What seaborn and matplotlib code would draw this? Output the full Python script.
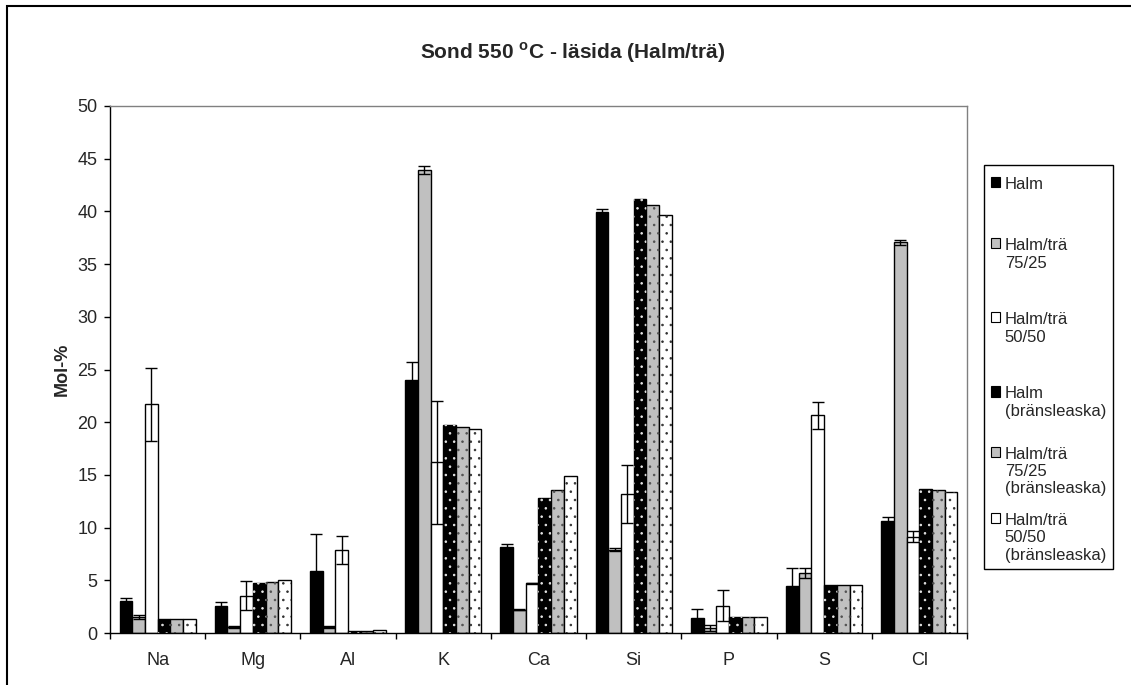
import matplotlib
matplotlib.use("Agg")
import matplotlib.pyplot as plt
from matplotlib.patches import Rectangle, Patch
from matplotlib.offsetbox import VPacker, DrawingArea
import numpy as np
import pandas as pd
import seaborn as sns

# Elements along the x axis
elements = ["Na", "Mg", "Al", "K", "Ca", "Si", "P", "S", "Cl"]

# Series names (legend labels)
series = [
    "Halm",
    "Halm/trä\n75/25",
    "Halm/trä\n50/50",
    "Halm\n(bränsleaska)",
    "Halm/trä\n75/25\n(bränsleaska)",
    "Halm/trä\n50/50\n(bränsleaska)",
]

# Measured composition, mol-%
halm = [3.0, 2.6, 5.85, 24.0, 8.2, 39.9, 1.4, 4.45, 10.6]
halm_7525 = [1.5, 0.55, 0.55, 43.95, 2.2, 7.9, 0.45, 5.7, 37.05]
halm_5050 = [21.7, 3.55, 7.9, 16.2, 4.7, 13.15, 2.6, 20.65, 9.15]

# Standard deviations of the measured series
halm_err = [0.3, 0.35, 3.5, 1.7, 0.2, 0.35, 0.9, 1.7, 0.4]
halm_7525_err = [0.2, 0.08, 0.1, 0.4, 0.05, 0.15, 0.3, 0.45, 0.2]
halm_5050_err = [3.45, 1.4, 1.35, 5.85, 0.08, 2.75, 1.45, 1.3, 0.55]

# Composition of the fuel ash
ash_halm = [1.3, 4.75, 0.2, 19.7, 12.8, 41.2, 1.5, 4.6, 13.7]
ash_7525 = [1.3, 4.85, 0.2, 19.55, 13.55, 40.65, 1.5, 4.6, 13.6]
ash_5050 = [1.3, 5.0, 0.3, 19.35, 14.85, 39.65, 1.5, 4.55, 13.35]

values = [halm, halm_7525, halm_5050, ash_halm, ash_7525, ash_5050]
errors = [halm_err, halm_7525_err, halm_5050_err, None, None, None]

fills = ["#000000", "#C0C0C0", "#FFFFFF", "#000000", "#C0C0C0", "#FFFFFF"]
dot_colors = [None, None, None, "#E8E8E8", "#505050", "#303030"]

# Vertical space (points) above the first legend entry and after each entry
legend_top_space = 3.6
legend_gaps = [33.6, 30.0, 30.0, 19.9, 12.0]

sns.set_style("white")
plt.rcParams["font.family"] = ["Liberation Sans", "DejaVu Sans"]
plt.rcParams["mathtext.fontset"] = "custom"
plt.rcParams["mathtext.rm"] = "Liberation Sans"
plt.rcParams["mathtext.bf"] = "Liberation Sans:bold"
plt.rcParams["hatch.linewidth"] = 0.6

df = pd.DataFrame(
    [(el, s, v) for s, vals in zip(series, values) for el, v in zip(elements, vals)],
    columns=["Element", "Serie", "Mol"],
)

fig = plt.figure(figsize=(11.31, 6.85), dpi=100)
ax = fig.add_axes([110 / 1131, 1 - 633 / 685, 857 / 1131, (633 - 106) / 685])

sns.barplot(
    data=df, x="Element", y="Mol", hue="Serie", order=elements, hue_order=series,
    palette=fills, edgecolor="black", linewidth=1.0, width=0.8, gap=0,
    errorbar=None, legend=False, saturation=1, ax=ax,
)

bar_containers = list(ax.containers)

# Dotted fill for the fuel-ash series and error bars for the measured ones
for i, cont in enumerate(bar_containers):
    xs = np.array([b.get_x() + b.get_width() / 2 for b in cont])
    if dot_colors[i] is not None:
        for b in cont:
            ax.add_patch(Rectangle((b.get_x(), b.get_y()), b.get_width(), b.get_height(),
                                   fill=False, hatch="..", edgecolor=dot_colors[i],
                                   linewidth=0, zorder=b.get_zorder() + 0.1))
    if errors[i] is not None:
        ax.errorbar(xs, values[i], yerr=errors[i], fmt="none", ecolor="black",
                    elinewidth=1.0, capsize=4.5, capthick=1.0, zorder=5)

ax.set_ylim(0, 50)
ax.set_yticks(np.arange(0, 51, 5))
ax.set_xlim(-0.5, len(elements) - 0.5)
ax.set_xticks(range(len(elements)))
ax.set_xticklabels(elements)
ax.set_xticks(np.arange(-0.5, len(elements), 1.0), minor=True)
ax.tick_params(axis="x", which="major", length=0, pad=14, labelsize=13)
ax.tick_params(axis="x", which="minor", length=4, width=1, color="black", direction="out",
               bottom=True)
ax.tick_params(axis="y", which="major", length=4, width=1, color="black", direction="out",
               pad=5, labelsize=13, left=True)
ax.set_xlabel("")
ax.set_ylabel("Mol-%", fontsize=13, fontweight="bold")
ax.yaxis.set_label_coords(-0.046, 0.5)

for side in ["left", "bottom"]:
    ax.spines[side].set_color("black")
    ax.spines[side].set_linewidth(1.0)
for side in ["top", "right"]:
    ax.spines[side].set_color("#808080")
    ax.spines[side].set_linewidth(1.0)

fig.text(573 / 1131, 1 - 53 / 685, r"Sond 550 $^{\mathbf{o}}$C - läsida (Halm/trä)",
         ha="center", va="center", fontsize=15, fontweight="bold")

handles = [Patch(facecolor=c, edgecolor="black", linewidth=0.8) for c in fills]
leg = fig.legend(handles, series, loc="upper left",
                 bbox_to_anchor=(984 / 1131, 1 - 165 / 685), fontsize=12,
                 frameon=True, fancybox=False, edgecolor="black", framealpha=1,
                 handlelength=0.55, handleheight=0.55, handletextpad=0.3,
                 labelspacing=0, borderpad=0.4, borderaxespad=0)
leg.get_frame().set_linewidth(1.0)

# Key beside the first line of each label, and individual spacing between entries
for column in leg._legend_handle_box.get_children():
    items = column.get_children()
    for item in items:
        item.align = "top"
    packed = [DrawingArea(1, legend_top_space)]
    for k, item in enumerate(items):
        if k < len(legend_gaps):
            packed.append(VPacker(children=[item, DrawingArea(1, legend_gaps[k])],
                                  sep=0, pad=0, align="left"))
        else:
            packed.append(item)
    items[:] = packed

# Outer chart frame (only top and left edges are inside the image)
fig.add_artist(Rectangle((7 / 1131, -0.5), 2.0, 1.5 - 6 / 685, transform=fig.transFigure,
                         fill=False, edgecolor="black", linewidth=1.5))

fig.savefig("out.png", dpi=100)
